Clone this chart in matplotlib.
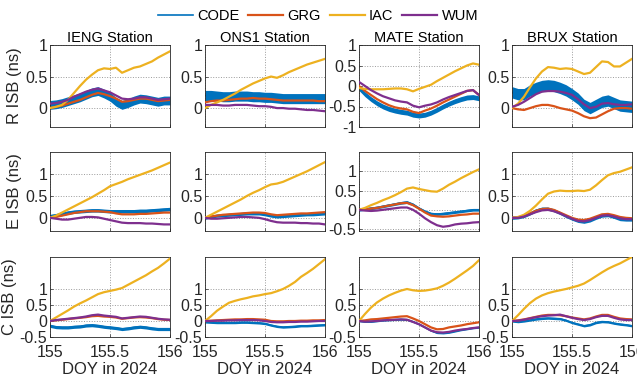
import numpy as np
import matplotlib
matplotlib.use("Agg")
import matplotlib.pyplot as plt

plt.rcParams['font.family'] = ['Liberation Sans', 'DejaVu Sans']

# sample times (DOY 155 to 156, every 0.05 day)
doy = np.linspace(155, 156, 21)

stations = ["IENG", "ONS1", "MATE", "BRUX"]
systems = ["R", "E", "C"]
centers = ["CODE", "GRG", "IAC", "WUM"]
colors = ["#0072BD", "#D95319", "#EDB120", "#7E2F8E"]

# ---- R ISB ----
r_ieng_code = [0.05,0.06,0.08,0.11,0.14,0.17,0.21,0.25,0.27,0.23,0.18,0.10,0.05,0.08,0.12,0.15,0.14,0.12,0.10,0.12,0.12]
r_ieng_grg = [0.0,0.02,0.04,0.07,0.10,0.13,0.17,0.21,0.24,0.22,0.19,0.15,0.10,0.11,0.13,0.15,0.15,0.13,0.11,0.12,0.13]
r_ieng_iac = [0.0,0.02,0.05,0.13,0.24,0.35,0.45,0.53,0.60,0.63,0.62,0.64,0.56,0.60,0.64,0.66,0.70,0.74,0.80,0.85,0.90]
r_ieng_wum = [0.07,0.08,0.10,0.13,0.18,0.22,0.26,0.29,0.31,0.28,0.25,0.20,0.15,0.14,0.15,0.17,0.17,0.15,0.13,0.14,0.15]

r_ons1_code = [0.20,0.20,0.19,0.18,0.18,0.19,0.19,0.19,0.18,0.18,0.17,0.17,0.16,0.15,0.15,0.15,0.15,0.15,0.15,0.15,0.15]
r_ons1_grg = [0.09,0.11,0.12,0.12,0.13,0.14,0.15,0.15,0.16,0.15,0.15,0.14,0.13,0.12,0.12,0.12,0.12,0.12,0.12,0.11,0.11]
r_ons1_iac = [0.0,0.05,0.09,0.13,0.18,0.23,0.29,0.34,0.39,0.43,0.47,0.50,0.48,0.52,0.57,0.61,0.65,0.69,0.72,0.75,0.78]
r_ons1_wum = [0.05,0.05,0.05,0.04,0.04,0.05,0.05,0.05,0.04,0.03,0.03,0.02,0.0,0.0,-0.01,-0.01,-0.02,-0.03,-0.03,-0.04,-0.05]

r_mate_code = [-0.05,-0.2,-0.32,-0.42,-0.5,-0.56,-0.6,-0.63,-0.65,-0.70,-0.72,-0.70,-0.65,-0.58,-0.50,-0.43,-0.37,-0.32,-0.28,-0.27,-0.30]
r_mate_grg = [0.0,-0.12,-0.22,-0.32,-0.40,-0.47,-0.52,-0.55,-0.57,-0.63,-0.66,-0.60,-0.55,-0.48,-0.40,-0.33,-0.26,-0.19,-0.12,-0.10,-0.22]
r_mate_iac = [-0.05,-0.07,-0.08,-0.08,-0.08,-0.07,-0.06,-0.06,-0.08,-0.13,-0.07,-0.02,0.03,0.12,0.2,0.28,0.36,0.43,0.50,0.55,0.52]
r_mate_wum = [0.10,0.0,-0.1,-0.18,-0.25,-0.30,-0.35,-0.38,-0.40,-0.48,-0.52,-0.48,-0.45,-0.40,-0.33,-0.27,-0.22,-0.17,-0.12,-0.10,-0.22]

r_brux_code = [0.25,0.22,0.22,0.28,0.32,0.35,0.36,0.35,0.32,0.28,0.22,0.15,0.05,0.0,0.05,0.10,0.12,0.08,0.04,0.03,0.02]
r_brux_grg = [0.0,-0.02,-0.03,0.0,0.03,0.05,0.05,0.03,0.0,-0.02,-0.04,-0.08,-0.13,-0.16,-0.15,-0.10,-0.05,-0.01,0.0,0.0,-0.01]
r_brux_iac = [0.0,0.07,0.18,0.33,0.47,0.58,0.65,0.64,0.62,0.63,0.62,0.58,0.54,0.56,0.65,0.74,0.73,0.66,0.66,0.72,0.78]
r_brux_wum = [0.02,0.05,0.10,0.16,0.22,0.26,0.27,0.27,0.26,0.24,0.21,0.14,0.06,0.0,0.02,0.07,0.08,0.06,0.05,0.05,0.06]

# ---- E ISB ----
e_ieng_code = [0.04,0.06,0.09,0.12,0.14,0.15,0.16,0.17,0.17,0.16,0.15,0.15,0.15,0.15,0.15,0.16,0.16,0.17,0.18,0.19,0.20]
e_ieng_grg = [0.0,0.02,0.05,0.08,0.11,0.13,0.15,0.15,0.15,0.14,0.13,0.10,0.08,0.08,0.08,0.09,0.09,0.10,0.11,0.12,0.12]
e_ieng_iac = [0.0,0.05,0.12,0.19,0.26,0.33,0.40,0.47,0.55,0.63,0.72,0.77,0.82,0.88,0.93,0.98,1.03,1.08,1.14,1.20,1.26]
e_ieng_wum = [0.0,-0.02,-0.04,-0.04,-0.02,0.0,0.02,0.02,0.01,-0.02,-0.05,-0.08,-0.11,-0.12,-0.12,-0.12,-0.13,-0.13,-0.14,-0.15,-0.15]

e_ons1_code = [0.0,0.03,0.05,0.06,0.07,0.08,0.09,0.10,0.10,0.10,0.08,0.05,0.03,0.04,0.05,0.06,0.07,0.08,0.08,0.09,0.10]
e_ons1_grg = [0.0,0.03,0.05,0.07,0.08,0.09,0.10,0.11,0.12,0.12,0.11,0.08,0.06,0.07,0.08,0.09,0.10,0.10,0.11,0.12,0.13]
e_ons1_iac = [0.0,0.07,0.14,0.21,0.28,0.35,0.42,0.50,0.57,0.63,0.70,0.76,0.78,0.82,0.88,0.94,1.00,1.06,1.13,1.20,1.27]
e_ons1_wum = [0.0,-0.02,-0.02,-0.01,0.0,0.01,0.02,0.02,0.01,0.0,-0.03,-0.07,-0.10,-0.11,-0.11,-0.11,-0.12,-0.12,-0.13,-0.13,-0.15]

e_mate_code = [0.0,0.02,0.04,0.06,0.09,0.12,0.15,0.18,0.20,0.14,0.04,-0.04,-0.10,-0.11,-0.10,-0.08,-0.06,-0.04,-0.02,0.0,0.0]
e_mate_grg = [0.0,0.01,0.03,0.05,0.08,0.11,0.14,0.17,0.18,0.12,0.03,-0.07,-0.15,-0.17,-0.18,-0.17,-0.15,-0.13,-0.12,-0.10,-0.10]
e_mate_iac = [0.0,0.05,0.12,0.18,0.25,0.31,0.38,0.46,0.55,0.58,0.54,0.51,0.48,0.47,0.55,0.65,0.73,0.82,0.90,0.98,1.05]
e_mate_wum = [0.0,-0.02,-0.03,-0.02,0.0,0.02,0.04,0.06,0.06,0.0,-0.10,-0.22,-0.32,-0.40,-0.44,-0.42,-0.38,-0.36,-0.35,-0.33,-0.32]

e_brux_code = [0.0,0.01,0.04,0.10,0.17,0.21,0.21,0.17,0.11,0.04,-0.02,-0.07,-0.09,-0.06,0.0,0.05,0.06,0.02,-0.03,-0.04,-0.04]
e_brux_grg = [0.0,0.01,0.04,0.10,0.16,0.20,0.21,0.18,0.12,0.06,0.0,-0.04,-0.05,-0.02,0.03,0.08,0.09,0.06,0.02,0.0,-0.01]
e_brux_iac = [0.0,0.02,0.07,0.16,0.28,0.42,0.55,0.60,0.62,0.61,0.61,0.62,0.61,0.64,0.74,0.86,0.97,1.02,1.05,1.10,1.15]
e_brux_wum = [0.0,0.0,0.03,0.08,0.13,0.17,0.18,0.15,0.10,0.04,-0.02,-0.07,-0.08,-0.05,0.0,0.05,0.06,0.03,-0.01,-0.03,-0.03]

# ---- C ISB ----
c_ieng_code = [-0.15,-0.19,-0.20,-0.20,-0.18,-0.17,-0.14,-0.13,-0.15,-0.18,-0.20,-0.22,-0.25,-0.23,-0.20,-0.18,-0.20,-0.23,-0.25,-0.25,-0.25]
c_ieng_grg = [0.0,0.02,0.04,0.06,0.08,0.10,0.12,0.15,0.16,0.14,0.13,0.11,0.07,0.09,0.11,0.12,0.11,0.09,0.06,0.04,0.03]
c_ieng_iac = [0.0,0.11,0.22,0.33,0.45,0.55,0.64,0.74,0.84,0.90,0.94,0.98,1.03,1.13,1.23,1.33,1.43,1.55,1.66,1.80,1.95]
c_ieng_wum = [0.0,0.03,0.05,0.07,0.09,0.11,0.14,0.18,0.20,0.17,0.15,0.13,0.08,0.10,0.12,0.14,0.13,0.10,0.07,0.05,0.04]

c_ons1_code = [-0.03,-0.04,-0.05,-0.05,-0.05,-0.05,-0.04,-0.04,-0.05,-0.06,-0.08,-0.13,-0.17,-0.19,-0.18,-0.17,-0.15,-0.15,-0.14,-0.13,-0.12]
c_ons1_grg = [0.0,0.01,0.02,0.03,0.04,0.05,0.05,0.06,0.06,0.05,0.04,0.0,-0.01,-0.01,0.0,0.0,0.01,0.01,0.02,0.02,0.03]
c_ons1_iac = [0.0,0.15,0.32,0.45,0.57,0.63,0.68,0.72,0.77,0.80,0.84,0.87,0.93,1.00,1.10,1.22,1.38,1.50,1.63,1.78,1.93]
c_ons1_wum = [0.0,0.0,0.01,0.01,0.02,0.02,0.03,0.03,0.03,0.02,0.0,-0.03,-0.04,-0.04,-0.03,-0.03,-0.02,-0.02,-0.01,0.0,0.0]

c_mate_code = [0.0,-0.02,-0.02,0.0,0.02,0.03,0.04,0.05,0.04,-0.02,-0.10,-0.20,-0.30,-0.37,-0.38,-0.36,-0.32,-0.28,-0.25,-0.22,-0.20]
c_mate_grg = [0.0,0.02,0.05,0.06,0.08,0.10,0.12,0.14,0.15,0.08,0.0,-0.10,-0.20,-0.26,-0.25,-0.20,-0.17,-0.14,-0.10,-0.07,-0.04]
c_mate_iac = [0.0,0.22,0.42,0.58,0.70,0.80,0.88,0.95,1.00,0.96,0.94,0.95,0.98,1.02,1.10,1.20,1.32,1.45,1.58,1.72,1.90]
c_mate_wum = [0.0,-0.02,-0.01,0.0,0.02,0.03,0.04,0.05,0.04,-0.03,-0.10,-0.20,-0.30,-0.35,-0.36,-0.34,-0.30,-0.27,-0.25,-0.22,-0.20]

c_brux_code = [0.0,-0.02,0.0,0.03,0.06,0.08,0.09,0.08,0.07,0.02,-0.05,-0.10,-0.15,-0.12,-0.05,-0.02,-0.03,-0.07,-0.10,-0.12,-0.15]
c_brux_grg = [0.0,0.02,0.05,0.09,0.13,0.17,0.19,0.19,0.18,0.15,0.11,0.08,0.05,0.08,0.14,0.19,0.19,0.13,0.08,0.06,0.05]
c_brux_iac = [0.0,0.18,0.38,0.56,0.70,0.80,0.87,0.92,0.96,1.00,1.05,1.10,1.17,1.28,1.40,1.52,1.63,1.72,1.80,1.90,2.0]
c_brux_wum = [0.0,0.01,0.04,0.08,0.12,0.15,0.17,0.18,0.20,0.15,0.10,0.06,0.03,0.06,0.12,0.16,0.16,0.10,0.05,0.03,0.03]

# CODE scatter half-width (ns) per panel, rows R/E/C, cols IENG/ONS1/MATE/BRUX
code_spread_r = [0.07, 0.08, 0.06, 0.09]
code_spread_e = [0.04, 0.035, 0.035, 0.035]
code_spread_c = [0.05, 0.035, 0.025, 0.035]

series = {
    "R": [[r_ieng_code, r_ieng_grg, r_ieng_iac, r_ieng_wum],
          [r_ons1_code, r_ons1_grg, r_ons1_iac, r_ons1_wum],
          [r_mate_code, r_mate_grg, r_mate_iac, r_mate_wum],
          [r_brux_code, r_brux_grg, r_brux_iac, r_brux_wum]],
    "E": [[e_ieng_code, e_ieng_grg, e_ieng_iac, e_ieng_wum],
          [e_ons1_code, e_ons1_grg, e_ons1_iac, e_ons1_wum],
          [e_mate_code, e_mate_grg, e_mate_iac, e_mate_wum],
          [e_brux_code, e_brux_grg, e_brux_iac, e_brux_wum]],
    "C": [[c_ieng_code, c_ieng_grg, c_ieng_iac, c_ieng_wum],
          [c_ons1_code, c_ons1_grg, c_ons1_iac, c_ons1_wum],
          [c_mate_code, c_mate_grg, c_mate_iac, c_mate_wum],
          [c_brux_code, c_brux_grg, c_brux_iac, c_brux_wum]],
}
spreads = {"R": code_spread_r, "E": code_spread_e, "C": code_spread_c}

# y-limits / ticks per panel
ylims = {"R": [(-0.3, 1), (-0.3, 1), (-1, 1), (-0.3, 1)],
         "E": [(-0.3, 1.5), (-0.3, 1.5), (-0.55, 1.5), (-0.3, 1.5)],
         "C": [(-0.5, 2), (-0.5, 2), (-0.5, 2), (-0.5, 2)]}
yticks = {"R": [[0, 0.5, 1], [0, 0.5, 1], [-1, -0.5, 0, 0.5, 1], [0, 0.5, 1]],
          "E": [[0, 0.5, 1], [0, 0.5, 1], [-0.5, 0, 0.5, 1], [0, 0.5, 1]],
          "C": [[-0.5, 0, 0.5, 1]] * 4}

# layout in pixels of a 637x379 figure
W, H = 637, 379
col_left = [50, 205, 359, 512]
ax_w = 120
row_top = [45, 152, 257]
row_bot = [127, 231, 337]

fig = plt.figure(figsize=(W / 100, H / 100), dpi=100)
dark = "#262626"

for i, s in enumerate(systems):
    for j, st in enumerate(stations):
        ax = fig.add_axes([col_left[j] / W, 1 - row_bot[i] / H,
                           ax_w / W, (row_bot[i] - row_top[i]) / H])
        data = series[s][j]
        code = np.array(data[0])
        sp = spreads[s][j]
        ax.fill_between(doy, code - sp, code + sp, color=colors[0], lw=0, zorder=2)
        ax.plot(doy, code, color=colors[0], lw=1.2, zorder=2, label=centers[0])
        for k in range(1, 4):
            ax.plot(doy, data[k], color=colors[k], lw=1.6, zorder=3 + k, label=centers[k])

        ax.set_xlim(155, 156)
        ax.set_ylim(*ylims[s][j])
        ax.set_xticks([155, 155.5, 156])
        ax.set_yticks(yticks[s][j])
        ax.set_yticklabels([("%g" % v) for v in yticks[s][j]])
        ax.grid(True, linestyle=":", color="#9a9a9a", linewidth=0.7)
        ax.set_axisbelow(True)
        ax.tick_params(direction="in", length=2.5, width=0.5, colors=dark,
                       labelsize=11.5, pad=2)
        ax.tick_params(axis="x", pad=6)
        for sp_ in ax.spines.values():
            sp_.set_color(dark)
            sp_.set_linewidth(0.6)
        if i < 2:
            ax.set_xticklabels([])
        else:
            ax.set_xticklabels(["155", "155.5", "156"])
            ax.set_xlabel("DOY in 2024", fontsize=12, color=dark, labelpad=1)
        if j == 0:
            ax.set_ylabel(s + " ISB (ns)", fontsize=12, color=dark, labelpad=2)
        if i == 0:
            ax.set_title(st + " Station", fontsize=10.5, color="black", pad=2)

handles, labels = ax.get_legend_handles_labels()
fig.legend(handles, labels, loc="center", bbox_to_anchor=(318 / W, 1 - 16 / H),
           ncol=4, frameon=False, fontsize=10.5, handlelength=2.4,
           handletextpad=0.3, columnspacing=0.6)

fig.savefig("out.png", dpi=100)
